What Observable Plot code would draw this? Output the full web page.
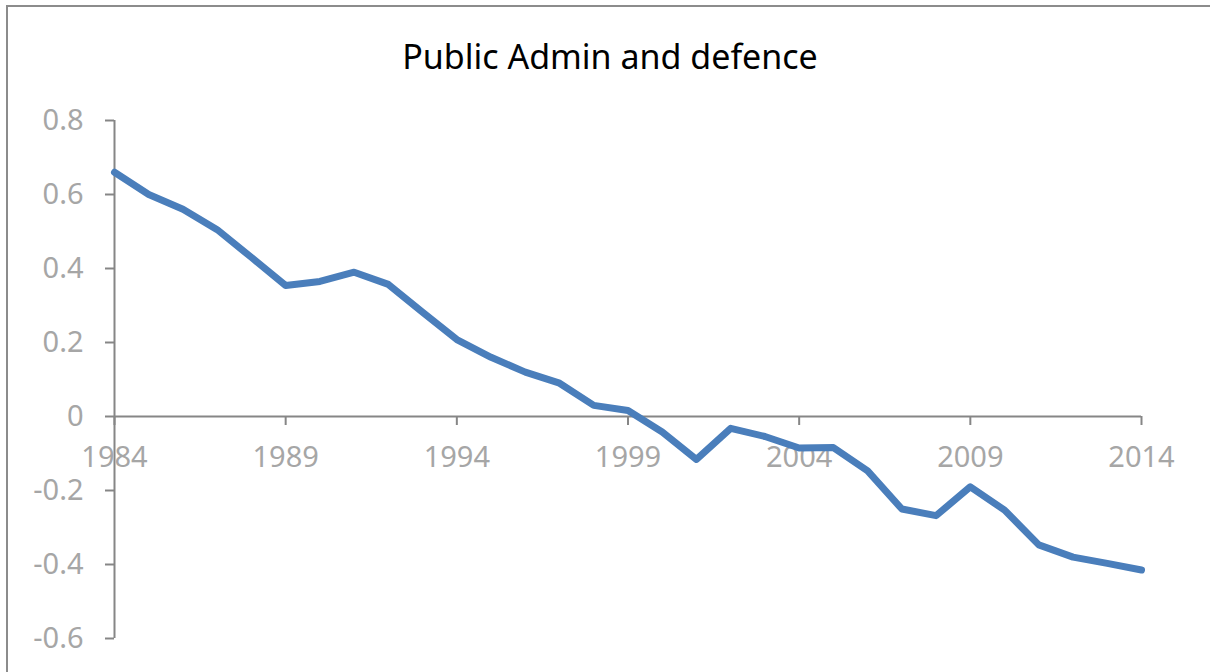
<!DOCTYPE html>
<html>
<head>
<meta charset="utf-8">
<script src="https://cdn.jsdelivr.net/npm/d3@7"></script>
<script src="https://cdn.jsdelivr.net/npm/@observablehq/plot@0.6"></script>
<style>
  html, body { margin: 0; padding: 0; background: #fff; overflow: hidden; }
  #frame { position: absolute; left: 6px; top: 5px; width: 1400px; height: 900px; border: 2px solid #8c8c8c; box-sizing: border-box; pointer-events: none; }
  #title { position: absolute; left: 0; top: 0; width: 1210px; height: 100px; line-height: 100px; padding-left: 10px; box-sizing: border-box; text-align: center; font-family: "Noto Sans", sans-serif; font-size: 34px; color: #000; margin-top: 6px; }
  #chart { position: absolute; left: 0; top: 100px; }
</style>
</head>
<body>
<div id="title">Public Admin and defence</div>
<div id="chart"></div>
<div id="frame"></div>
<script>
const years = [1984,1985,1986,1987,1988,1989,1990,1991,1992,1993,1994,1995,1996,1997,1998,1999,
  2000,2001,2002,2003,2004,2005,2006,2007,2008,2009,2010,2011,2012,2013,2014];
const values = [0.66,0.60,0.56,0.505,0.43,0.354,0.365,0.39,0.357,0.282,0.208,0.16,0.12,0.09,0.03,0.016,
  -0.042,-0.116,-0.032,-0.054,-0.085,-0.084,-0.147,-0.25,-0.268,-0.19,-0.253,-0.347,-0.38,-0.397,-0.415];
const xTicks = [1984,1989,1994,1999,2004,2009,2014];
const yTicks = [-0.6,-0.4,-0.2,0,0.2,0.4,0.6,0.8];
const yTickLabels = ["-0.6","-0.4","-0.2","0","0.2","0.4","0.6","0.8"];

const data = years.map((y, i) => ({year: y, value: values[i]}));
const axisColor = "#868686";
const labelColor = "#a6a6a6";
const font = "Noto Sans, sans-serif";

const chart = Plot.plot({
  width: 1210,
  height: 572,
  marginLeft: 114,
  marginRight: 69,
  marginTop: 20,
  marginBottom: 34,
  style: {fontFamily: font, background: "transparent"},
  x: {domain: [1984, 2014], axis: null},
  y: {domain: [-0.6, 0.8], axis: null},
  marks: [
    // y axis line
    Plot.ruleX([1984], {stroke: axisColor, strokeWidth: 2}),
    // y ticks
    Plot.ruleY(yTicks, {y: d => d, x1: 1984, x2: 1984, insetLeft: -9, stroke: axisColor, strokeWidth: 2}),
    Plot.text(yTicks, {y: d => d, x: 1984, dx: -31, text: (d, i) => yTickLabels[i], textAnchor: "end", fill: labelColor, fontSize: 29}),
    // x axis line at zero
    Plot.ruleY([0], {stroke: axisColor, strokeWidth: 2}),
    // x ticks
    Plot.ruleX(xTicks, {x: d => d, y1: 0, y2: 0, insetBottom: -9, stroke: axisColor, strokeWidth: 2}),
    Plot.text(xTicks, {x: d => d, y: 0, dy: 41, text: d => String(d), fill: labelColor, fontSize: 29}),
    // series
    Plot.line(data, {x: "year", y: "value", stroke: "#4a7ebb", strokeWidth: 7, strokeLinejoin: "round", strokeLinecap: "round"})
  ]
});
document.getElementById("chart").appendChild(chart);
</script>
</body>
</html>
